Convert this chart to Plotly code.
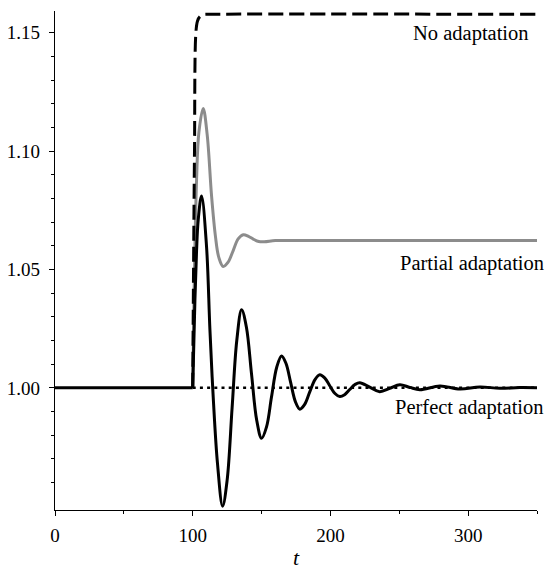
import plotly.graph_objects as go

# values
t_base = [0, 100]
y_base = [1.0, 1.0]

t_none = [100, 100.6, 101.3, 102.3, 103.5, 105.2, 108, 112, 350]
y_none = [1.0, 1.05, 1.10, 1.15, 1.155, 1.1568, 1.1577, 1.1578, 1.1578]

t_partial = [100, 101, 102.8, 104.5, 107.6, 110.5, 113.7, 116.5, 119, 122.1, 125.7,
             129.4, 133, 136.7, 140.5, 144, 148, 152, 160, 175, 350]
y_partial = [1.0, 1.04, 1.088, 1.108, 1.118, 1.107, 1.081, 1.064, 1.055, 1.0513, 1.0531,
             1.058, 1.0629, 1.0647, 1.064, 1.0628, 1.0618, 1.0617, 1.0622, 1.0623, 1.0622]

t_perfect = [100, 101.6, 102.8, 104, 106.4, 110, 112.5, 114.9, 118, 121.7, 125, 128.6, 132,
             135.5, 139, 142.7, 146.5, 150, 153.6, 157.2, 161, 164.5, 167.7, 171.1, 174.6,
             177.8, 181.3, 185, 188.8, 192.3, 195.8, 199.5, 203.3, 206.8, 210.3, 214, 217.8,
             221.3, 228.5, 235.8, 243.1, 250.4, 257.6, 264.9, 279.5, 294, 308.5, 323, 337.5, 350]
y_perfect = [1.0, 1.037, 1.058, 1.071, 1.081, 1.060, 1.0245, 0.996, 0.968, 0.950, 0.961,
             0.9915, 1.020, 1.033, 1.0256, 1.0059, 0.9862, 0.9787, 0.9835, 0.9961, 1.0087,
             1.0135, 1.0104, 1.0023, 0.9941, 0.991, 0.993, 0.9983, 1.0035, 1.0055, 1.0042,
             1.0009, 0.9976, 0.9963, 0.9971, 0.9993, 1.0014, 1.0022, 1.0003, 0.9984, 0.9998,
             1.0013, 1.0002, 0.9992, 1.0008, 0.9995, 1.0004, 0.9998, 1.0001, 1.0]

t_ref = [100, 350]
y_ref = [1.0, 1.0]

labels = ["No adaptation", "Partial adaptation", "Perfect adaptation"]
label_x = [0.9855, 1.0165, 1.0165]   # paper units, right edge of each label
label_y = [1.1495, 1.0524, 0.9915]

font = "Liberation Serif"

fig = go.Figure()
fig.add_trace(go.Scatter(x=t_partial, y=y_partial, mode="lines",
                         line=dict(color="#8c8c8c", width=3, shape="spline")))
fig.add_trace(go.Scatter(x=t_ref, y=y_ref, mode="lines",
                         line=dict(color="black", width=2.5, dash="3px,4.2px")))
fig.add_trace(go.Scatter(x=t_perfect, y=y_perfect, mode="lines",
                         line=dict(color="black", width=3, shape="spline")))
fig.add_trace(go.Scatter(x=t_base, y=y_base, mode="lines",
                         line=dict(color="black", width=3)))
fig.add_trace(go.Scatter(x=t_none, y=y_none, mode="lines",
                         line=dict(color="black", width=3, shape="spline", dash="15px,6px")))

for txt, lx, ly in zip(labels, label_x, label_y):
    fig.add_annotation(x=lx, y=ly, xref="paper", yref="y", text=txt, showarrow=False,
                       xanchor="right", yanchor="middle", borderpad=0,
                       font=dict(family=font, size=20.5, color="black"))

fig.add_annotation(x=175, y=0, xref="x", yref="paper", text="<i>t</i>", showarrow=False,
                   yanchor="middle", yshift=-47, borderpad=0,
                   font=dict(family=font, size=22, color="black"))

fig.update_layout(
    width=548, height=569,
    margin=dict(l=55, r=11, t=11, b=59),
    plot_bgcolor="white", paper_bgcolor="white",
    showlegend=False,
    font=dict(family=font, size=19, color="black"),
)
fig.update_xaxes(range=[0, 350], tickvals=[0, 100, 200, 300], ticks="outside", ticklen=5,
                 tickwidth=1, tickcolor="black", showline=True, linecolor="black", linewidth=1.2,
                 showgrid=False, zeroline=False, automargin=False, ticklabelstandoff=3,
                 minor=dict(tickvals=[50, 150, 250, 350], ticks="outside", ticklen=3,
                            tickcolor="black", showgrid=False))
fig.update_yaxes(range=[0.9484, 1.1592], tickvals=[1.0, 1.05, 1.10, 1.15],
                 ticktext=["1.00", "1.05", "1.10", "1.15"], ticks="outside", ticklen=5,
                 tickwidth=1, tickcolor="black", showline=True, linecolor="black", linewidth=1.2,
                 showgrid=False, zeroline=False, automargin=False, ticklabelstandoff=5,
                 minor=dict(tickvals=[0.96, 0.97, 0.98, 0.99, 1.01, 1.02, 1.03, 1.04, 1.06,
                                      1.07, 1.08, 1.09, 1.11, 1.12, 1.13, 1.14],
                            ticks="outside", ticklen=3, tickcolor="black", showgrid=False))

# drop the default 8px page margin so the canvas fills the window, hide the modebar
fig.write_html("out.html", config={"displayModeBar": False},
               post_script="document.body.style.margin='0';")
